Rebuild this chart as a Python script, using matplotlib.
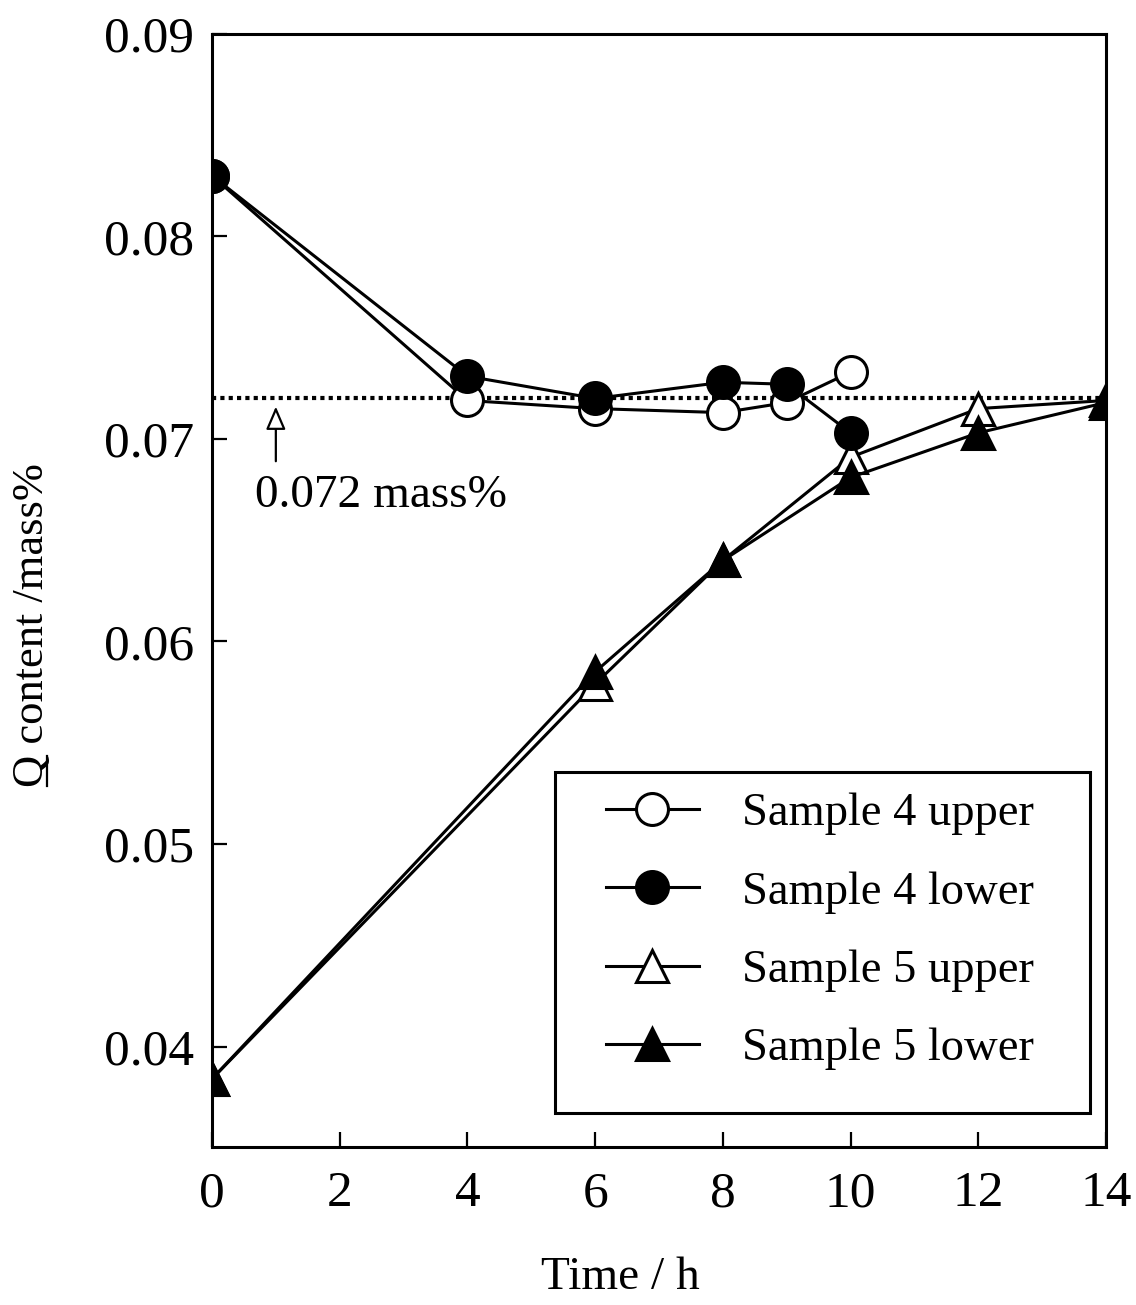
import matplotlib
matplotlib.use("Agg")
import matplotlib.pyplot as plt
from matplotlib.patches import Rectangle
from matplotlib.lines import Line2D

plt.rcParams['font.family'] = ['Liberation Serif', 'DejaVu Serif']

# data
t4 = [0, 4, 6, 8, 9, 10]
s4_upper = [0.0830, 0.0719, 0.0715, 0.0713, 0.0718, 0.0733]
s4_lower = [0.0830, 0.0731, 0.0720, 0.0728, 0.0727, 0.0703]

t5 = [0, 6, 8, 10, 12, 14]
s5_upper = [0.0384, 0.0579, 0.0640, 0.0691, 0.0715, 0.0719]
s5_lower = [0.0384, 0.0585, 0.0640, 0.0681, 0.0703, 0.0718]

ref_level = 0.072

fig = plt.figure(figsize=(11.36, 13.05), dpi=100)
ax = fig.add_axes([0.1866, 0.1211, 0.787, 0.8529])

ms = 23
lw = 2.2
mew = 2.2
ax.axhline(ref_level, color='black', ls=(0, (1, 1)), lw=3, zorder=1)
ax.plot(t4, s4_upper, '-o', color='black', mfc='white', mec='black', ms=ms, lw=lw, mew=mew,
        label='Sample 4 upper', zorder=3)
ax.plot(t4, s4_lower, '-o', color='black', mfc='black', mec='black', ms=ms, lw=lw, mew=mew,
        label='Sample 4 lower', zorder=4)
ax.plot(t5, s5_upper, '-^', color='black', mfc='white', mec='black', ms=ms, lw=lw, mew=mew,
        label='Sample 5 upper', zorder=3)
ax.plot(t5, s5_lower, '-^', color='black', mfc='black', mec='black', ms=ms, lw=lw, mew=mew,
        label='Sample 5 lower', zorder=4)

# arrow + note for the reference level
ax.annotate('', xy=(1.0, 0.0716), xytext=(1.0, 0.0689),
            arrowprops=dict(arrowstyle='-|>,head_length=1.4,head_width=0.6',
                            fc='white', ec='black', lw=1.6, shrinkA=0, shrinkB=0))
ax.text(0.67, 0.0672, '0.072 mass%', fontsize=34, va='center', ha='left')

ax.set_xlim(0, 14)
ax.set_ylim(0.03504, 0.09)
ax.set_xticks([0, 2, 4, 6, 8, 10, 12, 14])
ax.set_yticks([0.04, 0.05, 0.06, 0.07, 0.08, 0.09])
ax.set_yticklabels(['0.04', '0.05', '0.06', '0.07', '0.08', '0.09'])
ax.tick_params(direction='in', length=11, width=1.6, labelsize=37)
ax.tick_params(axis='x', pad=17)
ax.tick_params(axis='y', pad=13)
for s in ax.spines.values():
    s.set_linewidth(2.2)

ax.set_xlabel('Time / h', fontsize=34)
ax.xaxis.set_label_coords(0.457, -0.098)
ylab = ax.set_ylabel('Q content /mass%', fontsize=32)
ax.yaxis.set_label_coords(-0.179, 0.469)

ax.add_patch(Rectangle((0.3837, 0.0305), 0.5985, 0.3065, transform=ax.transAxes,
                       fill=False, ec='black', lw=2.2, zorder=5))
ax.legend(loc='upper left', bbox_to_anchor=(0.4195, 0.335), frameon=False,
          fontsize=33.5, handlelength=2.0, handletextpad=0.94, labelspacing=0.77,
          borderaxespad=0)

# underline the Q of the y label
fig.canvas.draw()
r = fig.canvas.get_renderer()
bb = ylab.get_window_extent(r)
tq = fig.text(0, 0, 'Q', fontsize=32)
wq = tq.get_window_extent(r).width
tq.remove()
inv = fig.transFigure.inverted()
xu = bb.x1 - 5
p0 = inv.transform((xu, bb.y0 + 1))
p1 = inv.transform((xu, bb.y0 + wq - 1))
fig.add_artist(Line2D([p0[0], p1[0]], [p0[1], p1[1]], color='black', lw=1.6,
                      transform=fig.transFigure))

fig.savefig('out.png', dpi=100)
